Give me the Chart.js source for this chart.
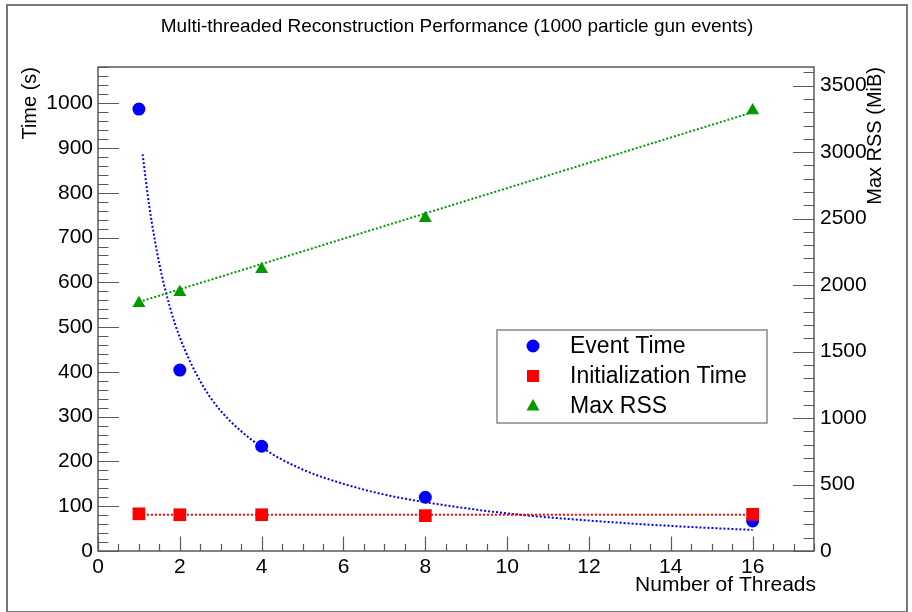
<!DOCTYPE html>
<html>
<head>
<meta charset="utf-8">
<script src="https://cdn.jsdelivr.net/npm/chart.js@4.4.0/dist/chart.umd.min.js"></script>
<style>
  html, body { margin: 0; padding: 0; background: #fff; }
  #wrap { width: 912px; height: 612px; position: relative; }
</style>
</head>
<body>
<div id="wrap"><canvas id="chart" width="912" height="612"></canvas></div>
<script>
// measured points
const threads = [1, 2, 4, 8, 16];
const eventTime = [987, 404, 234, 120, 67];
const initTime = [83, 81, 81, 79, 82];
const maxRss = [1863, 1946, 2119, 2502, 3313];

// fit curves
const eventFitX = [1.09, 1.25, 1.5, 1.75, 2, 2.5, 3, 4, 5, 6, 7, 8, 10, 12, 14, 16];
const eventFitY = [886, 772, 641, 547, 477, 379, 313, 232, 182, 150, 126, 109, 84, 68, 56, 47];
const initFitX = [1, 16];
const initFitY = [81, 81];
const rssFitX = [1, 16];
const rssFitY = [1873, 3300];

// axis ticks
const xTicks = [0, 2, 4, 6, 8, 10, 12, 14, 16];
const timeTicks = [0, 100, 200, 300, 400, 500, 600, 700, 800, 900, 1000];
const rssTicks = [0, 500, 1000, 1500, 2000, 2500, 3000, 3500];

const seriesNames = ['Event Time', 'Initialization Time', 'Max RSS'];
const BLUE = '#0000ff', RED = '#ff0000', GREEN = '#009a00';
const FONT = '"Liberation Sans", Arial, sans-serif';
const AXIS = '#5a5a5a';

const pts = (xs, ys) => xs.map((x, i) => ({ x: x, y: ys[i] }));

function setTicks(list) {
  return function (scale) { scale.ticks = list.map(v => ({ value: v })); };
}
const plain = v => String(v);

// ROOT style frame, inward ticks, titles and legend
const rootDecor = {
  id: 'rootDecor',
  afterDraw(chart) {
    const ctx = chart.ctx;
    const a = chart.chartArea;
    const sx = chart.scales.x, sy = chart.scales.y, sr = chart.scales.y2;
    ctx.save();

    // outer pad border
    ctx.strokeStyle = '#777';
    ctx.lineWidth = 2;
    ctx.strokeRect(7, 5, 900, 607);

    // frame
    ctx.strokeStyle = AXIS;
    ctx.lineWidth = 1.5;
    ctx.strokeRect(a.left, a.top, a.right - a.left, a.bottom - a.top);

    // x ticks
    ctx.lineWidth = 1.2;
    ctx.beginPath();
    for (let v = 0; v <= sx.max + 1e-9; v += 0.5) {
      const px = Math.round(sx.getPixelForValue(v)) + 0.5;
      const len = (Math.abs(v % 2) < 1e-9) ? 14.5 : 7;
      ctx.moveTo(px, a.bottom);
      ctx.lineTo(px, a.bottom - len);
    }
    // left y ticks
    for (let v = 0; v <= sy.max + 1e-9; v += 20) {
      const py = Math.round(sy.getPixelForValue(v)) + 0.5;
      const len = (v % 100 === 0) ? 21 : 10.5;
      ctx.moveTo(a.left, py);
      ctx.lineTo(a.left + len, py);
    }
    // right y ticks
    for (let v = 0; v <= sr.max + 1e-9; v += 100) {
      const py = Math.round(sr.getPixelForValue(v)) + 0.5;
      const len = (v % 500 === 0) ? 21 : 10.5;
      ctx.moveTo(a.right, py);
      ctx.lineTo(a.right - len, py);
    }
    ctx.stroke();

    // titles
    ctx.fillStyle = '#000';
    ctx.font = '19px ' + FONT;
    ctx.textAlign = 'center';
    ctx.textBaseline = 'middle';
    ctx.fillText('Multi-threaded Reconstruction Performance (1000 particle gun events)', 457, 27);

    ctx.font = '21px ' + FONT;
    ctx.textAlign = 'right';
    ctx.textBaseline = 'middle';
    ctx.fillText('Number of Threads', a.right + 2, 585);

    ctx.font = '20px ' + FONT;
    ctx.save();
    ctx.translate(30, a.top);
    ctx.rotate(-Math.PI / 2);
    ctx.textAlign = 'right';
    ctx.textBaseline = 'middle';
    ctx.fillText('Time (s)', 0, 0);
    ctx.restore();

    ctx.save();
    ctx.translate(875, a.top);
    ctx.rotate(-Math.PI / 2);
    ctx.textAlign = 'right';
    ctx.textBaseline = 'middle';
    ctx.fillText('Max RSS (MiB)', 0, 0);
    ctx.restore();

    // legend
    ctx.fillStyle = '#fff';
    ctx.fillRect(497, 330, 270, 93);
    ctx.strokeStyle = '#888';
    ctx.lineWidth = 1.5;
    ctx.strokeRect(497, 330, 270, 93);
    const rows = [346, 376, 406];
    const mx = 533;
    ctx.fillStyle = BLUE;
    ctx.beginPath(); ctx.arc(mx, rows[0], 6.5, 0, Math.PI * 2); ctx.fill();
    ctx.fillStyle = RED;
    ctx.fillRect(mx - 6, rows[1] - 6, 12, 12);
    ctx.fillStyle = GREEN;
    ctx.beginPath();
    ctx.moveTo(mx, rows[2] - 7); ctx.lineTo(mx + 6.5, rows[2] + 4.5); ctx.lineTo(mx - 6.5, rows[2] + 4.5);
    ctx.closePath(); ctx.fill();
    ctx.fillStyle = '#000';
    ctx.font = '23px ' + FONT;
    ctx.textAlign = 'left';
    ctx.textBaseline = 'middle';
    seriesNames.forEach((n, i) => ctx.fillText(n, 570, rows[i] + 1));

    ctx.restore();
  }
};

const fitLine = (color) => ({
  showLine: true,
  borderColor: color,
  borderWidth: 2,
  borderDash: [2, 2],
  pointRadius: 0,
  fill: false
});

new Chart(document.getElementById('chart'), {
  type: 'scatter',
  data: {
    datasets: [
      Object.assign(fitLine(BLUE), { label: 'Event fit', data: pts(eventFitX, eventFitY), cubicInterpolationMode: 'monotone', order: 6 }),
      Object.assign(fitLine(RED), { label: 'Init fit', data: pts(initFitX, initFitY), order: 5 }),
      Object.assign(fitLine(GREEN), { label: 'RSS fit', data: pts(rssFitX, rssFitY), yAxisID: 'y2', order: 4 }),
      { label: seriesNames[0], data: pts(threads, eventTime), pointStyle: 'circle', pointRadius: 6.5,
        backgroundColor: BLUE, borderWidth: 0, order: 3 },
      { label: seriesNames[1], data: pts(threads, initTime), pointStyle: 'rect', pointRadius: 9,
        backgroundColor: RED, borderWidth: 0, order: 2 },
      { label: seriesNames[2], data: pts(threads, maxRss), pointStyle: 'triangle', pointRadius: 7.5,
        backgroundColor: GREEN, borderWidth: 0, yAxisID: 'y2', order: 1 }
    ]
  },
  options: {
    responsive: false,
    animation: false,
    layout: { padding: { top: 67, left: 0, right: 0, bottom: 0 } },
    plugins: { legend: { display: false }, tooltip: { enabled: false }, title: { display: false } },
    elements: { point: { hoverRadius: 0 } },
    scales: {
      x: {
        type: 'linear', min: 0, max: 17.5,
        afterBuildTicks: setTicks(xTicks),
        afterFit(s) { s.height = 61; },
        grid: { display: false },
        border: { display: false },
        ticks: { color: '#000', font: { family: FONT, size: 21 }, padding: -4, maxRotation: 0, callback: plain }
      },
      y: {
        type: 'linear', position: 'left', min: 0, max: 1081,
        afterBuildTicks: setTicks(timeTicks),
        afterFit(s) { s.width = 98; },
        grid: { display: false },
        border: { display: false },
        ticks: { color: '#000', font: { family: FONT, size: 21 }, padding: -3, callback: plain }
      },
      y2: {
        type: 'linear', position: 'right', min: 0, max: 3640,
        afterBuildTicks: setTicks(rssTicks),
        afterFit(s) { s.width = 98; },
        grid: { display: false },
        border: { display: false },
        ticks: { color: '#000', font: { family: FONT, size: 21 }, padding: -2, callback: plain }
      }
    }
  },
  plugins: [rootDecor]
});
</script>
</body>
</html>
